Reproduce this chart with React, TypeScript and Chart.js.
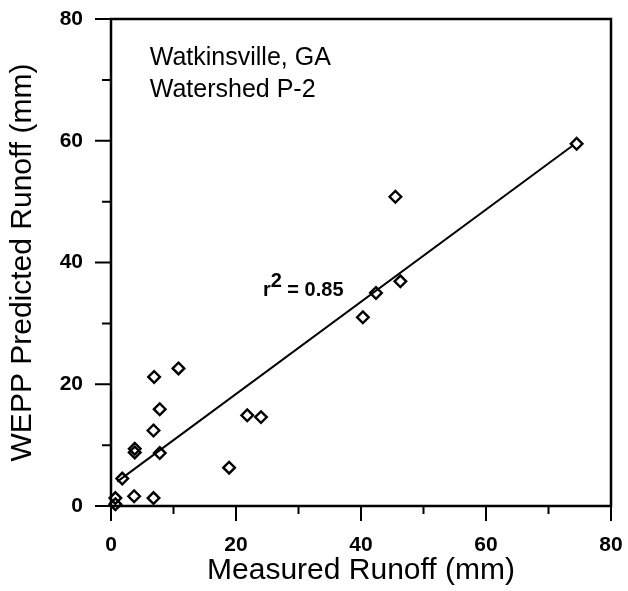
import React, { useEffect, useRef } from "react";
import { Chart, registerables } from "chart.js";

Chart.register(...registerables);

// Measured vs. WEPP-predicted runoff, mm
const measuredRunoff = [74.5, 45.5, 46.3, 42.4, 40.3, 24.0, 21.8, 18.9, 10.8, 6.9, 7.8, 6.8, 7.8, 3.8, 3.8, 1.8, 0.7, 3.7, 6.8, 0.7];
const predictedRunoff = [59.5, 50.8, 36.9, 35.0, 31.0, 14.6, 14.9, 6.3, 22.6, 21.2, 15.9, 12.4, 8.7, 8.8, 9.4, 4.5, 1.3, 1.6, 1.3, 0.3];

// Fitted regression line end points
const fitX = [1, 74];
const fitY = [4.0, 59.3];

const majorTicks = [0, 20, 40, 60, 80];
const minorTicks = [10, 30, 50, 70];

const siteLines = ["Watkinsville, GA", "Watershed P-2"];
const fitLabel = { x: 24.3, y: 34.5, text: "r", sup: "2", rest: " = 0.85" };

const FONT = "'Liberation Sans', Arial, Helvetica, sans-serif";

const framePlugin = {
  id: "frameAndTicks",
  afterDraw(chart: any) {
    const { ctx, chartArea } = chart;
    const { left, right, top, bottom } = chartArea;
    const xs = chart.scales.x;
    const ys = chart.scales.y;
    ctx.save();
    ctx.strokeStyle = "#000";
    ctx.lineWidth = 2.5;
    ctx.beginPath();
    ctx.rect(left, top, right - left, bottom - top);
    ctx.stroke();
    ctx.lineWidth = 2;
    ctx.beginPath();
    for (const v of majorTicks) {
      const py = ys.getPixelForValue(v);
      ctx.moveTo(left - 16, py);
      ctx.lineTo(left, py);
      const px = xs.getPixelForValue(v);
      ctx.moveTo(px, bottom);
      ctx.lineTo(px, bottom + 15);
    }
    for (const v of minorTicks) {
      const py = ys.getPixelForValue(v);
      ctx.moveTo(left - 9, py);
      ctx.lineTo(left, py);
      const px = xs.getPixelForValue(v);
      ctx.moveTo(px, bottom);
      ctx.lineTo(px, bottom + 8);
    }
    ctx.stroke();

    // site caption
    ctx.fillStyle = "#000";
    ctx.font = `25px ${FONT}`;
    ctx.textBaseline = "alphabetic";
    ctx.textAlign = "left";
    const tx = xs.getPixelForValue(6.2);
    ctx.fillText(siteLines[0], tx, ys.getPixelForValue(72.4));
    ctx.fillText(siteLines[1], tx, ys.getPixelForValue(67.2));

    // r-squared label
    ctx.font = `bold 20px ${FONT}`;
    const rx = xs.getPixelForValue(fitLabel.x);
    const ry = ys.getPixelForValue(fitLabel.y);
    ctx.fillText(fitLabel.text, rx, ry);
    const rw = ctx.measureText(fitLabel.text).width;
    ctx.fillText(fitLabel.sup, rx + rw, ry - 9);
    const sw = ctx.measureText(fitLabel.sup).width;
    ctx.fillText(fitLabel.rest, rx + rw + sw, ry);
    ctx.restore();
  },
};

const noScalePadding = (s: any) => {
  s.paddingLeft = 0;
  s.paddingRight = 0;
  s.paddingTop = 0;
  s.paddingBottom = 0;
};

export default function App() {
  const ref = useRef<HTMLCanvasElement>(null);

  useEffect(() => {
    const canvas = ref.current;
    if (!canvas) return;
    const points = measuredRunoff.map((x, i) => ({ x, y: predictedRunoff[i] }));
    const line = fitX.map((x, i) => ({ x, y: fitY[i] }));
    const chart = new Chart(canvas, {
      type: "scatter",
      data: {
        datasets: [
          {
            type: "line",
            data: line,
            borderColor: "#000",
            borderWidth: 2,
            pointRadius: 0,
            fill: false,
          },
          {
            data: points,
            pointStyle: "rectRot",
            pointRadius: 5.8,
            borderColor: "#000",
            backgroundColor: "rgba(0,0,0,0)",
            borderWidth: 2.4,
            clip: false,
          },
        ],
      },
      options: {
        responsive: false,
        animation: false,
        events: [],
        layout: { padding: { top: 19, right: 17, bottom: 0, left: 0 } },
        plugins: { legend: { display: false }, tooltip: { enabled: false } },
        scales: {
          x: {
            type: "linear",
            min: 0,
            max: 80,
            grid: { display: false, drawTicks: false },
            border: { display: false },
            ticks: {
              stepSize: 20,
              padding: 27,
              color: "#000",
              font: { family: FONT, size: 21, weight: "bold" },
            },
            title: {
              display: true,
              text: "Measured Runoff (mm)",
              color: "#000",
              font: { family: FONT, size: 30 },
              padding: { top: 0, bottom: 2 },
            },
            afterFit: (s: any) => {
              s.height = 85;
              noScalePadding(s);
            },
          },
          y: {
            type: "linear",
            min: 0,
            max: 80,
            grid: { display: false, drawTicks: false },
            border: { display: false },
            ticks: {
              stepSize: 20,
              padding: 28,
              color: "#000",
              font: { family: FONT, size: 21, weight: "bold" },
            },
            title: {
              display: true,
              text: "WEPP Predicted Runoff (mm)",
              color: "#000",
              font: { family: FONT, size: 30 },
              padding: { top: 5, bottom: 0 },
            },
            afterFit: (s: any) => {
              s.width = 111;
              noScalePadding(s);
            },
          },
        },
      },
      plugins: [framePlugin],
    });
    return () => chart.destroy();
  }, []);

  return (
    <div style={{ position: "absolute", left: 0, top: 0, width: 628, height: 591, background: "#fff" }}>
      <canvas ref={ref} width={628} height={591} />
    </div>
  );
}
